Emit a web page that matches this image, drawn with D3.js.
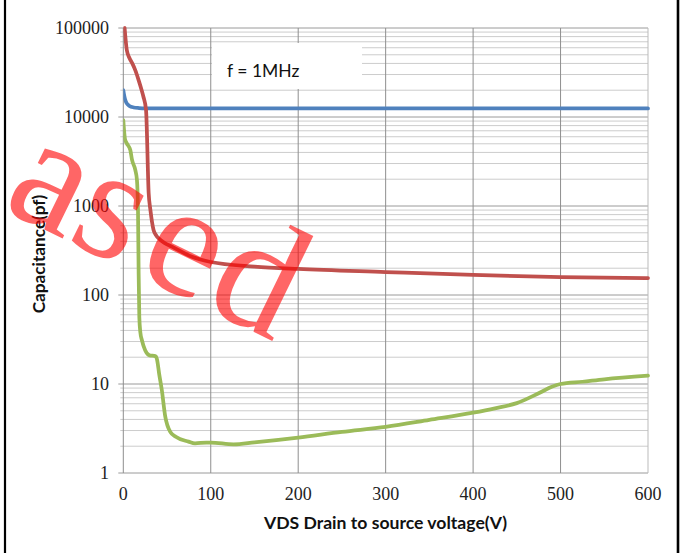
<!DOCTYPE html>
<html><head><meta charset="utf-8">
<script src="https://cdn.jsdelivr.net/npm/d3@7/dist/d3.min.js"></script>
<style>body{margin:0;background:#fff}svg{display:block}</style>
</head><body><svg id="c" width="688" height="553"></svg>
<script>
// ---- data ----
const xTicks = [0, 100, 200, 300, 400, 500, 600];
const yTicks = [1, 10, 100, 1000, 10000, 100000];

const cissV = [0, 1, 2, 4, 7, 12, 18, 25, 50, 100, 200, 300, 400, 500, 600];
const cissC = [20000, 17500, 15800, 14200, 13300, 12800, 12600, 12500, 12500, 12500, 12500, 12500, 12500, 12500, 12500];

const cossV = [1.5, 4, 7, 10, 14, 17.5, 21, 23, 26, 29, 31, 34.6, 37.5, 40.4, 47, 55.6, 78.5, 100, 150, 200, 300, 400, 500, 600];
const cossC = [100000, 56600, 46000, 40500, 33000, 26000, 20000, 16900, 12000, 1400, 900, 537, 470, 433, 385, 349, 269, 235, 209, 196, 181, 168, 159, 155];

const crssV = [0, 2, 4, 8, 10, 13.7, 15.6, 16.8, 17.5, 18.3, 19.5, 21.3, 25, 30, 36.6, 38.5, 41, 44, 48, 53.7, 60, 74.6, 82, 95, 100, 126, 150, 200, 250, 300, 350, 400, 425, 450, 475, 490, 500, 525, 550, 600];
const crssC = [9200, 5600, 5060, 4250, 3290, 2540, 1960, 900, 191, 57, 38, 31, 24, 21, 20.6, 19, 13, 8.6, 4.3, 2.9, 2.55, 2.25, 2.15, 2.2, 2.2, 2.1, 2.21, 2.5, 2.9, 3.3, 3.95, 4.76, 5.33, 6.1, 7.87, 9.3, 10, 10.6, 11.3, 12.4];

const seriesNames = ["Ciss", "Coss", "Crss"];
const seriesColors = ["#4F81BD", "#C0504D", "#9BBB59"];

const xTitle = "VDS Drain to source voltage(V)";
const yTitle = "Capacitance(pf)";
const noteText = "f = 1MHz";
const watermarkLetters = ["a", "s", "e", "d"];
const watermarkDx = [0, 0, 14, 3];

// ---- layout ----
const svg = d3.select("#c");
const L = 123.3, R = 648, T = 28, B = 473;
const x = d3.scaleLinear().domain([0, 600]).range([L, R]);
const y = d3.scaleLog().domain([1, 100000]).range([B, T]);

// gridlines
const minor = [];
for (let d = 1; d < 100000; d *= 10) for (let k = 2; k <= 9; k++) minor.push(d * k);
const g = svg.append("g");
g.selectAll(".mn").data(minor).enter().append("line")
  .attr("x1", L - 3).attr("x2", R).attr("y1", d => y(d)).attr("y2", d => y(d))
  .attr("stroke", "#cccccc").attr("stroke-width", 1);
g.selectAll(".mj").data(yTicks).enter().append("line")
  .attr("x1", L - 5).attr("x2", R).attr("y1", d => y(d)).attr("y2", d => y(d))
  .attr("stroke", "#9a9a9a").attr("stroke-width", 1);
g.selectAll(".vx").data(xTicks).enter().append("line")
  .attr("x1", d => x(d)).attr("x2", d => x(d)).attr("y1", T).attr("y2", B)
  .attr("stroke", d => d === 600 ? "#bbbbbb" : "#8e8e8e").attr("stroke-width", 1);

// note box
svg.append("rect").attr("x", 212).attr("y", 43).attr("width", 150).attr("height", 46).attr("fill", "#fff");
svg.append("text").attr("x", 227).attr("y", 77).text(noteText)
  .attr("font-family", "Lato, 'Open Sans', sans-serif").attr("font-size", 17.5).attr("fill", "#111");

// tick labels
const tickFont = "'Liberation Serif', serif";
svg.selectAll(".yl").data(yTicks).enter().append("text")
  .attr("x", 109).attr("y", d => y(d)).attr("dy", "0.35em").attr("text-anchor", "end")
  .attr("font-family", tickFont).attr("font-size", 18).attr("fill", "#222").text(d => d);
svg.selectAll(".xl").data(xTicks).enter().append("text")
  .attr("x", d => x(d)).attr("y", 500).attr("text-anchor", "middle")
  .attr("font-family", tickFont).attr("font-size", 18).attr("fill", "#222").text(d => d);

// axis titles
svg.append("text").attr("x", 385.5).attr("y", 529).attr("text-anchor", "middle")
  .attr("font-family", "Lato, 'Open Sans', sans-serif").attr("font-weight", "bold").attr("font-size", 17.6)
  .attr("fill", "#111").text(xTitle);
svg.append("text").attr("transform", "translate(44.5,254) rotate(-90)").attr("text-anchor", "middle")
  .attr("font-family", "Lato, 'Open Sans', sans-serif").attr("font-weight", "bold").attr("font-size", 17.2)
  .attr("fill", "#111").text(yTitle);

// lines
const line = d3.line().x(d => x(d[0])).y(d => y(d[1])).curve(d3.curveMonotoneX);
const series = [[cissV, cissC], [cossV, cossC], [crssV, crssC]];
svg.append("defs").append("clipPath").attr("id", "pc").append("rect")
  .attr("x", L).attr("y", T - 2).attr("width", R - L + 2).attr("height", B - T + 2);
series.forEach((s, i) => {
  const pts = s[0].map((v, j) => [v, s[1][j]]);
  svg.append("path").datum(pts).attr("d", line).attr("fill", "none")
    .attr("stroke", seriesColors[i]).attr("stroke-width", 3.75)
    .attr("stroke-linejoin", "round").attr("stroke-linecap", "round")
    .attr("clip-path", "url(#pc)");
});

// watermark
const wm = svg.append("text").attr("font-family", "'Liberation Serif', 'DejaVu Serif', serif")
  .attr("font-size", 162).attr("fill", "rgba(255,0,0,0.6)")
  .attr("transform", "translate(0,208) rotate(26)");
wm.selectAll("tspan").data(watermarkLetters).enter().append("tspan")
  .attr("dx", (d, i) => watermarkDx[i]).text(d => d);

// borders
svg.append("line").attr("x1", 5).attr("x2", 5).attr("y1", 0).attr("y2", 553).attr("stroke", "#000").attr("stroke-width", 2.2);
svg.append("line").attr("x1", 678).attr("x2", 678).attr("y1", 0).attr("y2", 553).attr("stroke", "#000").attr("stroke-width", 2.6);
</script></body></html>
